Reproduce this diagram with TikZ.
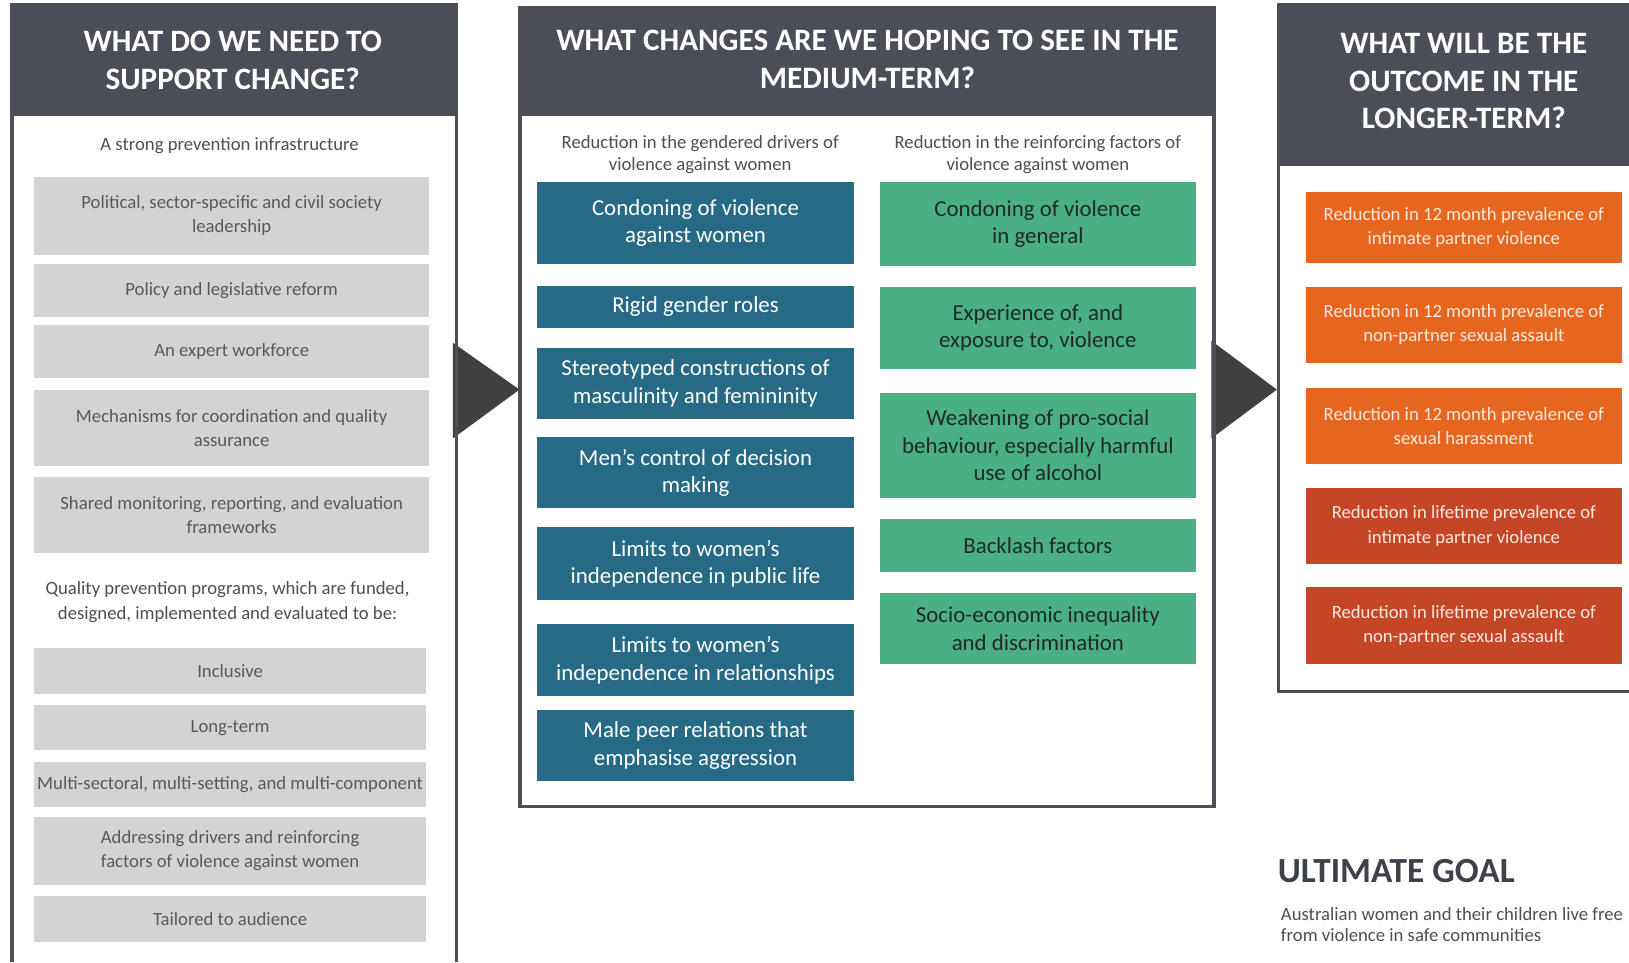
\documentclass[tikz,border=0pt]{standalone}
\usepackage{fontspec}
\setmainfont{Carlito}
\definecolor{hdrgray}{HTML}{4B4E57}
\definecolor{bordergray}{HTML}{4E5058}
\definecolor{boxgray}{HTML}{D1D3D4}
\definecolor{gtext}{HTML}{58595B}
\definecolor{subtext}{HTML}{4D4F55}
\definecolor{tealc}{HTML}{266A85}
\definecolor{greenc}{HTML}{4BAF86}
\definecolor{greentext}{HTML}{1F2A27}
\definecolor{orangec}{HTML}{E7661F}
\definecolor{redc}{HTML}{C54627}
\definecolor{otext}{HTML}{FDEBDF}
\definecolor{arrowc}{HTML}{404040}
\definecolor{goalc}{HTML}{3E4149}
\newcommand\HdrFont{\fontsize{30}{36}\selectfont\bfseries}
\newcommand\BoxFont{\fontsize{18}{23.5}\selectfont}
\newcommand\SubFont{\fontsize{18}{21}\selectfont}
\newcommand\BigFont{\fontsize{22}{26.5}\selectfont}
\begin{document}
\begin{tikzpicture}[x=1pt,y=-1pt,
  every node/.style={inner sep=0pt, outer sep=0pt},
  hdr/.style={fill=hdrgray, anchor=north west},
  hdrtext/.style={text=white, align=center, font=\HdrFont},
  panel/.style={draw=bordergray, line width=3pt},
  gbox/.style={fill=boxgray, text=gtext, align=center, font=\BoxFont, anchor=north west},
  sub/.style={text=subtext, align=center, font=\BoxFont},
  msub/.style={text=subtext, align=center, font=\SubFont},
  tbox/.style={fill=tealc, text=white, align=center, font=\BigFont, anchor=north west, minimum width=305pt},
  grbox/.style={fill=greenc, text=greentext, align=center, font=\BigFont, anchor=north west, minimum width=304pt},
  obox/.style={fill=orangec, text=otext, align=center, font=\BoxFont, anchor=north west, minimum width=304pt},
  rbox/.style={fill=redc, text=otext, align=center, font=\BoxFont, anchor=north west, minimum width=304pt},
  arrowtri/.style={fill=arrowc}
]
\useasboundingbox (0,0) rectangle (1568,926);
\fill[white] (0,0) rectangle (1568,926);

% arrows between panels
\fill[arrowtri] (436,330) -- (500,375) -- (436,422) -- cycle;
\fill[arrowtri] (1166,328) -- (1229,375) -- (1166,422) -- cycle;

% ---------- left panel ----------
\draw[panel] (11.5,112) -- (11.5,926);
\draw[panel] (439,112) -- (439,926);
\node[hdr, minimum width=431pt, minimum height=109pt] (lh) at (10,3) {};
\node[hdrtext] (lht) at (224,58) {WHAT DO WE NEED TO\\SUPPORT CHANGE?};

\node[sub] (ls1) at (221,140) {A strong prevention infrastructure};
\node[gbox, minimum width=380pt, minimum height=75pt] (g1) at (33,170) {Political, sector-specific and civil society\\leadership};
\node[gbox, minimum width=380pt, minimum height=51pt] (g2) at (33,254) {Policy and legislative reform};
\node[gbox, minimum width=380pt, minimum height=51pt] (g3) at (33,313) {An expert workforce};
\node[gbox, minimum width=380pt, minimum height=74pt] (g4) at (33,375) {Mechanisms for coordination and quality\\assurance};
\node[gbox, minimum width=380pt, minimum height=73pt] (g5) at (33,459) {Shared monitoring, reporting, and evaluation\\frameworks};

\node[sub] (ls2) at (219,579.5) {Quality prevention programs, which are funded,\\designed, implemented and evaluated to be:};
\node[gbox, minimum width=377pt, minimum height=44pt] (q1) at (33,624) {Inclusive};
\node[gbox, minimum width=377pt, minimum height=43pt] (q2) at (33,679) {Long-term};
\node[gbox, minimum width=377pt, minimum height=44pt] (q3) at (33,733) {Multi-sectoral, multi-setting, and multi-component};
\node[gbox, minimum width=377pt, minimum height=66pt] (q4) at (33,786) {Addressing drivers and reinforcing\\factors of violence against women};
\node[gbox, minimum width=377pt, minimum height=45pt] (q5) at (33,862) {Tailored to audience};

% ---------- middle panel ----------
\draw[panel] (500.5,112) -- (500.5,776.5) -- (1168.5,776.5) -- (1168.5,112);
\node[hdr, minimum width=671pt, minimum height=106pt] (mh) at (499,6) {};
\node[hdrtext] (mht) at (835,57) {WHAT CHANGES ARE WE HOPING TO SEE IN THE\\MEDIUM-TERM?};

\node[msub] (ms1) at (674,148.5) {Reduction in the gendered drivers of\\violence against women};
\node[msub] (ms2) at (999,148.5) {Reduction in the reinforcing factors of\\violence against women};

\node[tbox, minimum height=79pt] (t1) at (517,175) {Condoning of violence\\against women};
\node[tbox, minimum height=41pt] (t2) at (517,275) {Rigid gender roles};
\node[tbox, minimum height=68pt] (t3) at (517,335) {Stereotyped constructions of\\masculinity and femininity};
\node[tbox, minimum height=68pt] (t4) at (517,421) {Men’s control of decision\\making};
\node[tbox, minimum height=71pt] (t5) at (517,507) {Limits to women’s\\independence in public life};
\node[tbox, minimum height=69pt] (t6) at (517,601) {Limits to women’s\\independence in relationships};
\node[tbox, minimum height=69pt] (t7) at (517,683) {Male peer relations that\\emphasise aggression};

\node[grbox, minimum height=81pt] (r1) at (847,175) {Condoning of violence\\in general};
\node[grbox, minimum height=79pt] (r2) at (847,276) {Experience of, and\\exposure to, violence};
\node[grbox, minimum height=101pt] (r3) at (847,378) {Weakening of pro-social\\behaviour, especially harmful\\use of alcohol};
\node[grbox, minimum height=51pt] (r4) at (847,500) {Backlash factors};
\node[grbox, minimum height=68pt] (r5) at (847,571) {Socio-economic inequality\\and discrimination};

% ---------- right panel ----------
\draw[panel] (1230.5,160) -- (1230.5,665.5) -- (1575,665.5);
\node[hdr, minimum width=345pt, minimum height=157pt] (rh) at (1229,3) {};
\node[hdrtext] (rht) at (1409,78) {WHAT WILL BE THE\\OUTCOME IN THE\\LONGER-TERM?};

\node[obox, minimum height=68pt] (o1) at (1257,185) {Reduction in 12 month prevalence of\\intimate partner violence};
\node[obox, minimum height=73pt] (o2) at (1257,276) {Reduction in 12 month prevalence of\\non-partner sexual assault};
\node[obox, minimum height=74pt] (o3) at (1257,373) {Reduction in 12 month prevalence of\\sexual harassment};
\node[rbox, minimum height=73pt] (o4) at (1257,470) {Reduction in lifetime prevalence of\\intimate partner violence};
\node[rbox, minimum height=74pt] (o5) at (1257,565) {Reduction in lifetime prevalence of\\non-partner sexual assault};

% ---------- ultimate goal ----------
\node[anchor=west, text=goalc, font=\fontsize{34}{38}\selectfont\bfseries] (goal) at (1230,838) {ULTIMATE GOAL};
\node[anchor=north west, text=subtext, align=left, font=\fontsize{18}{20}\selectfont] (goaltxt) at (1233,874) {Australian women and their children live free\\from violence in safe communities};
\end{tikzpicture}
\end{document}
